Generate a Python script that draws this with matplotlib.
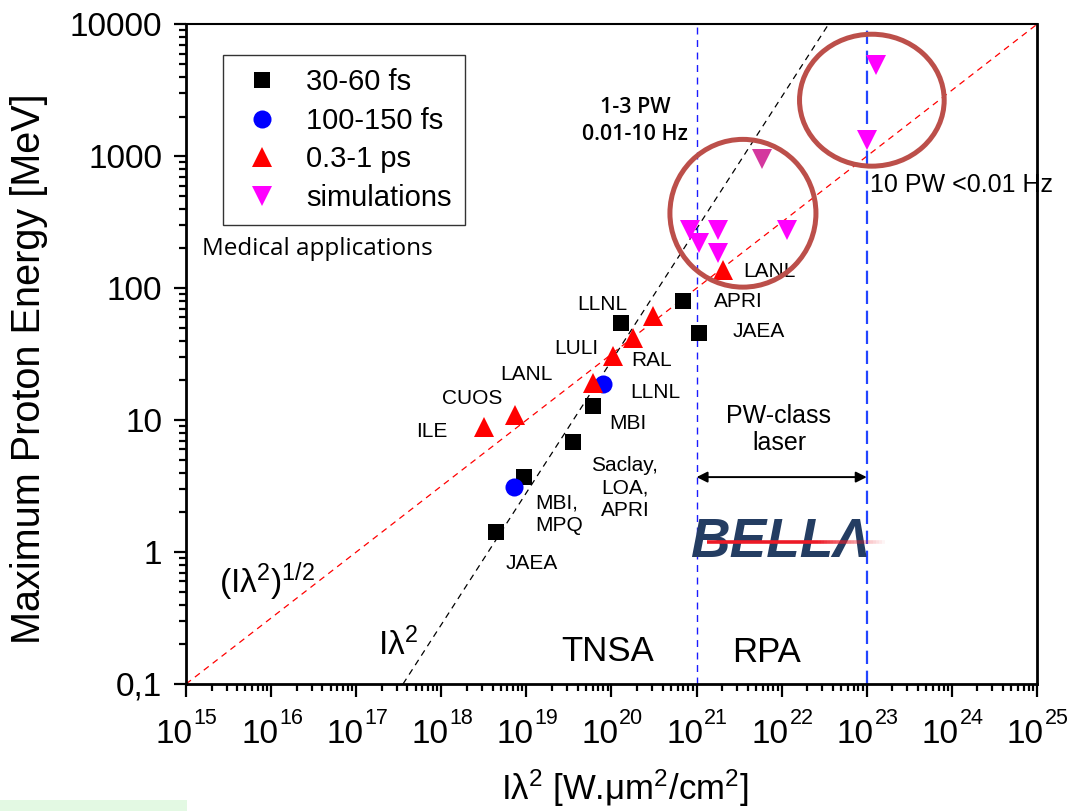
import numpy as np
import matplotlib.pyplot as plt
from matplotlib.patches import Ellipse, Rectangle
from matplotlib.collections import LineCollection
from matplotlib.ticker import LogLocator, FixedLocator, FixedFormatter, NullFormatter

plt.rcParams['font.family'] = ['Liberation Sans', 'DejaVu Sans']
plt.rcParams['mathtext.default'] = 'regular'

# measured points, I*lambda^2 [W.um^2/cm^2] vs max proton energy [MeV]
fs30_x = [4.4e18, 9.3e18, 3.5e19, 6.0e19, 1.3e20, 6.9e20, 1.07e21]
fs30_y = [1.42, 3.7, 6.8, 12.8, 54.6, 80, 45.8]

fs100_x = [7.1e18, 7.9e19]
fs100_y = [3.12, 18.8]

ps_x = [3.2e18, 7.4e18, 6.0e19, 1.05e20, 1.78e20, 3.1e20, 2.04e21]
ps_y = [8.9, 10.9, 19.1, 30.7, 42, 61.7, 138]

sim_x = [8.3e20, 1.07e21, 1.78e21, 1.78e21, 1.15e22, 1.0e23, 1.3e23]
sim_y = [277, 220, 277, 185, 277, 1330, 4930]
sim2_x = [5.9e21]
sim2_y = [955]

# scaling lines (end points)
sqrt_x = [1e15, 1e25]
sqrt_y = [0.1, 1e4]
lin_x = [3.55e17, 3.55e22]
lin_y = [0.1, 1e4]

# PW-class laser band
pw_lo = 1e21
pw_hi = 1e23

x_exponents = list(range(15, 26))
y_ticks = [0.1, 1, 10, 100, 1000, 10000]
y_ticklabels = ['0,1', '1', '10', '100', '1000', '10000']

# lab labels: (text, x, y)
labels = [
    ('ILE', 5.0e17, 8.15),
    ('CUOS', 1.02e18, 14.7),
    ('LANL', 4.9e18, 22.0),
    ('LULI', 2.11e19, 34.7),
    ('LLNL', 3.94e19, 74.6),
    ('RAL', 1.69e20, 28.1),
    ('LLNL', 1.65e20, 16.1),
    ('MBI', 9.35e19, 9.5),
    ('MBI,\nMPQ', 1.26e19, 1.93),
    ('JAEA', 5.76e18, 0.826),
    ('LANL', 3.5e21, 133),
    ('APRI', 1.6e21, 78.7),
    ('JAEA', 2.68e21, 46.7),
]

fig = plt.figure(figsize=(10.69, 8.11), dpi=100)
ax = fig.add_axes([0.174, 0.1566, 0.796, 0.8134])
ax.set_xscale('log')
ax.set_yscale('log')
ax.set_xlim(1e15, 1e25)
ax.set_ylim(0.1, 1e4)

ax.plot(sqrt_x, sqrt_y, ls=(0, (5, 4)), color='red', lw=0.9, zorder=1)
ax.plot(lin_x, lin_y, ls=(0, (5, 4)), color='black', lw=0.9, zorder=1)
ax.axvline(pw_lo, color='#1a1aff', lw=1.0, ls=(0, (5, 4)), zorder=1)
ax.axvline(pw_hi, color='#2244ff', lw=1.6, ls=(0, (6, 3)), zorder=1)

ax.plot(fs30_x, fs30_y, 's', color='black', ms=12, mew=0, label='30-60 fs', zorder=3)
ax.plot(fs100_x, fs100_y, 'o', color='#0000ff', ms=13, mew=0, label='100-150 fs', zorder=3)
ax.plot(ps_x, ps_y, '^', color='#ff0000', ms=15, mew=0, label='0.3-1 ps', zorder=4)
ax.plot(sim_x, sim_y, 'v', color='#ff00ff', ms=15, mew=0, label='simulations', zorder=4)
ax.plot(sim2_x, sim2_y, 'v', color='#d4389e', ms=15, mew=0, zorder=4)

# circles around simulation groups
for cx, cy, w, h in [(0.6545, 0.7136, 0.1716, 0.224), (0.806, 0.885, 0.170, 0.200)]:
    ax.add_patch(Ellipse((cx, cy), w, h, transform=ax.transAxes, fill=False,
                         ec='#bc4f4a', lw=3.6, zorder=5))

for txt, x, y in labels:
    ax.text(x, y, txt, fontsize=15, ha='left', va='center', linespacing=1.25)
ax.text(1.44e20, 3.06, 'Saclay,\nLOA,\nAPRI', fontsize=15, ha='center', va='center',
        linespacing=1.25)
ax.text(9.3e21, 8.5, 'PW-class\nlaser', fontsize=18, ha='center', va='center',
        linespacing=1.2)
ax.annotate('', xy=(pw_lo, 3.7), xytext=(pw_hi, 3.7),
            arrowprops=dict(arrowstyle='<|-|>', color='black', lw=1.4,
                            mutation_scale=16, shrinkA=0, shrinkB=0))
ax.text(1.89e20, 1854, '1-3 PW\n0.01-10 Hz', fontsize=15.5, ha='center', va='center',
        family=['Open Sans', 'DejaVu Sans'], fontweight='semibold', linespacing=1.4)
ax.text(1.09e23, 607, '10 PW <0.01 Hz', fontsize=18, ha='left', va='center', clip_on=False)
ax.text(1.54e15, 198.6, 'Medical applications', fontsize=17.5, ha='left', va='center',
        family=['Open Sans', 'DejaVu Sans'])
ax.text(9.1e19, 0.175, 'TNSA', fontsize=25, ha='center', va='center')
ax.text(6.7e21, 0.172, 'RPA', fontsize=25, ha='center', va='center')
ax.text(2.44e15, 0.49, '(Iλ$^2$)$^{1/2}$', fontsize=24, ha='left', va='baseline')
ax.text(1.8e17, 0.166, 'Iλ$^2$', fontsize=24, ha='left', va='baseline')

# BELLA logo
ax.text(9.5e21, 1.17, 'BELLΛ', fontsize=39.5, fontweight='bold', fontstyle='italic',
        color='#243d62', ha='center', va='center', zorder=6)
xs = np.linspace(0.612, 0.821, 60)
segs = [[(xs[i], 0.216), (xs[i + 1], 0.216)] for i in range(len(xs) - 1)]
alph = np.clip((0.821 - xs[:-1]) / 0.08, 0, 1)
cols = [(0.93, 0.1, 0.15, a) for a in alph]
ax.add_collection(LineCollection(segs, colors=cols, lw=2.6, transform=ax.transAxes, zorder=7))

# axes styling
for side in ['left', 'bottom', 'right', 'top']:
    ax.spines[side].set_linewidth(2.0)
ax.spines['top'].set_linewidth(1.5)
ax.tick_params(which='both', direction='out', top=False, right=False, width=1.6)
ax.tick_params(which='major', length=9, labelsize=24)
ax.tick_params(which='minor', length=5)
ax.tick_params(axis='y', which='major', pad=8)
ax.xaxis.set_major_locator(FixedLocator([10.0 ** e for e in x_exponents]))
ax.xaxis.set_major_formatter(NullFormatter())
ax.xaxis.set_minor_locator(LogLocator(base=10, subs=np.arange(2, 10), numticks=20))
ax.xaxis.set_minor_formatter(NullFormatter())
ax.yaxis.set_major_locator(FixedLocator(y_ticks))
ax.yaxis.set_major_formatter(FixedFormatter(y_ticklabels))
ax.yaxis.set_minor_locator(LogLocator(base=10, subs=np.arange(2, 10), numticks=20))
ax.yaxis.set_minor_formatter(NullFormatter())

# x tick labels: big "10" with small exponent
for e in x_exponents:
    ax.annotate('10', xy=(10.0 ** e, 0), xycoords=('data', 'axes fraction'),
                xytext=(5, -42.5), textcoords='offset points', ha='right', va='baseline',
                fontsize=24, annotation_clip=False)
    ax.annotate(str(e), xy=(10.0 ** e, 0), xycoords=('data', 'axes fraction'),
                xytext=(5.6, -28.5), textcoords='offset points', ha='left', va='baseline',
                fontsize=15.5, annotation_clip=False)

ax.set_ylabel('Maximum Proton Energy [MeV]', fontsize=28.5)
ax.yaxis.set_label_coords(-0.162, 0.478)
ax.set_xlabel('Iλ$^2$ [W.μm$^2$/cm$^2$]', fontsize=25)
ax.xaxis.set_label_coords(0.516, -0.126)

leg = ax.legend(loc='upper left', bbox_to_anchor=(0.0435, 0.953), fontsize=21,
                frameon=True, fancybox=False, borderaxespad=0, handlelength=1.8,
                handletextpad=0.6, labelspacing=0.36, borderpad=0.45)
leg.get_frame().set_edgecolor('black')
leg.get_frame().set_linewidth(1.0)

# faint green strip at bottom-left of the source image
fig.add_artist(Rectangle((0, 0), 0.175, 0.013, transform=fig.transFigure,
                         color='#e3f9e3', lw=0))

fig.savefig('out.png', dpi=100)
